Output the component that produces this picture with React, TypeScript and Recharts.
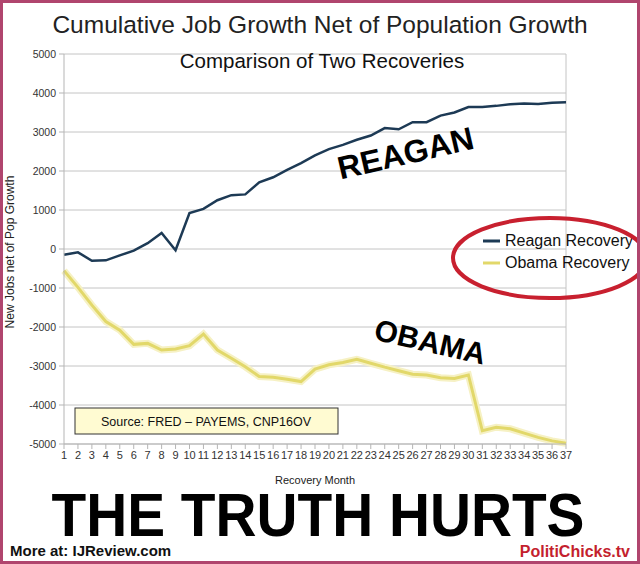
import React from "react";
import { LineChart, Line, XAxis, YAxis, CartesianGrid, ReferenceLine, Legend } from "recharts";

const months = [1,2,3,4,5,6,7,8,9,10,11,12,13,14,15,16,17,18,19,20,21,22,23,24,25,26,27,28,29,30,31,32,33,34,35,36,37];
const reagan = [-150,-85,-300,-290,-165,-40,150,410,-30,920,1030,1250,1380,1400,1710,1840,2030,2200,2400,2560,2670,2800,2910,3100,3070,3250,3250,3420,3500,3640,3640,3670,3710,3730,3720,3750,3760];
const obama = [-555,-985,-1440,-1860,-2080,-2445,-2420,-2590,-2565,-2480,-2180,-2590,-2800,-3020,-3270,-3290,-3340,-3400,-3080,-2970,-2910,-2830,-2930,-3030,-3120,-3210,-3230,-3300,-3320,-3230,-4660,-4570,-4610,-4720,-4830,-4920,-4980];
const yTicks = [-5000,-4000,-3000,-2000,-1000,0,1000,2000,3000,4000,5000];
const seriesNames = ["Reagan Recovery", "Obama Recovery"];

const data = months.map((m, i) => ({ month: m, reagan: reagan[i], obama: obama[i] }));

const FONT = "'Liberation Sans', Arial, sans-serif";
const REAGAN_COLOR = "#1d3a55";
const OBAMA_COLOR = "#e2d86a";

function LegendContent() {
  const items = [
    { name: seriesNames[0], color: REAGAN_COLOR },
    { name: seriesNames[1], color: OBAMA_COLOR },
  ];
  return (
    <div style={{ fontFamily: FONT, fontSize: 16, color: "#111", whiteSpace: "nowrap" }}>
      {items.map((it) => (
        <div key={it.name} style={{ display: "flex", alignItems: "center", height: 22 }}>
          <svg width={20} height={10} style={{ marginRight: 4 }}>
            <line x1={2} y1={5} x2={19} y2={5} stroke={it.color} strokeWidth={3} />
          </svg>
          <span>{it.name}</span>
        </div>
      ))}
    </div>
  );
}

export default function App() {
  return (
    <div style={{ position: "absolute", left: 0, top: 0, width: 640, height: 564, background: "#fff", fontFamily: FONT }}>
      <LineChart
        width={640}
        height={564}
        data={data}
        margin={{ top: 54, right: 74, bottom: 100, left: 24 }}
      >
        <CartesianGrid vertical={false} stroke="#c4c4c4" strokeWidth={1} />
        <XAxis
          dataKey="month"
          type="number"
          domain={[1, 37]}
          ticks={months}
          interval={0}
          height={20}
          tickSize={5}
          tickMargin={2}
          stroke="#b5b5b5"
          tick={{ fill: "#333", fontSize: 11, fontFamily: FONT }}
        />
        <YAxis
          type="number"
          domain={[-5000, 5000]}
          ticks={yTicks}
          interval={0}
          width={40}
          tickSize={5}
          tickMargin={3}
          stroke="#b5b5b5"
          tick={{ fill: "#333", fontSize: 10.5, fontFamily: FONT }}
        />
        <ReferenceLine x={37} stroke="#c4c4c4" />
        <Line
          dataKey="obama"
          stroke="#f6f1c4"
          strokeWidth={7}
          dot={false}
          isAnimationActive={false}
          legendType="none"
        />
        <Line
          dataKey="obama"
          name={seriesNames[1]}
          stroke={OBAMA_COLOR}
          strokeWidth={3}
          dot={false}
          isAnimationActive={false}
        />
        <Line
          dataKey="reagan"
          name={seriesNames[0]}
          stroke={REAGAN_COLOR}
          strokeWidth={2.5}
          dot={false}
          isAnimationActive={false}
        />
        <Legend
          layout="horizontal"
          align="center"
          verticalAlign="middle"
          content={<LegendContent />}
          wrapperStyle={{ position: "absolute", left: 481, top: 230, width: 160, right: "auto", bottom: "auto" }}
        />
      </LineChart>
      <svg
        width={640}
        height={564}
        style={{ position: "absolute", left: 0, top: 0, pointerEvents: "none" }}
        fontFamily={FONT}
      >
        <text x={320} y={33} textAnchor="middle" fontSize={24.5} fill="#222">
          Cumulative Job Growth Net of Population Growth
        </text>
        <text x={322} y={68} textAnchor="middle" fontSize={20.5} fill="#111">
          Comparison of Two Recoveries
        </text>
        <text
          transform="translate(14,252) rotate(-90)"
          textAnchor="middle"
          fontSize={12}
          fill="#222"
        >
          New Jobs net of Pop Growth
        </text>
        <text x={315} y={484} textAnchor="middle" fontSize={11} fill="#222">
          Recovery Month
        </text>
        <text
          transform="translate(408,164) rotate(-13)"
          textAnchor="middle"
          fontSize={32}
          fontWeight="bold"
          fill="#000"
        >
          REAGAN
        </text>
        <text
          transform="translate(428,352) rotate(13)"
          textAnchor="middle"
          fontSize={30}
          fontWeight="bold"
          fill="#000"
        >
          OBAMA
        </text>
        <rect x={75} y={408} width={263} height={26} fill="#fffbd2" stroke="#333" strokeWidth={1} />
        <text x={206} y={426} textAnchor="middle" fontSize={12.5} fill="#111">
          Source: FRED – PAYEMS, CNP16OV
        </text>
        <ellipse cx={550} cy={258} rx={97} ry={40} fill="none" stroke="#c8202f" strokeWidth={4} />
        <text
          x={318}
          y={536}
          textAnchor="middle"
          fontSize={62}
          fontWeight="bold"
          fill="#000"
          textLength={533}
          lengthAdjust="spacingAndGlyphs"
        >
          THE TRUTH HURTS
        </text>
        <text x={10} y={556} fontSize={15} fontWeight="bold" fill="#111">
          More at: IJReview.com
        </text>
        <text x={630} y={557} textAnchor="end" fontSize={16} fontWeight="bold" fill="#c41f2e">
          PolitiChicks.tv
        </text>
        <rect x={1.5} y={1.5} width={637} height={561} fill="none" stroke="#b0456e" strokeWidth={3} />
      </svg>
    </div>
  );
}
